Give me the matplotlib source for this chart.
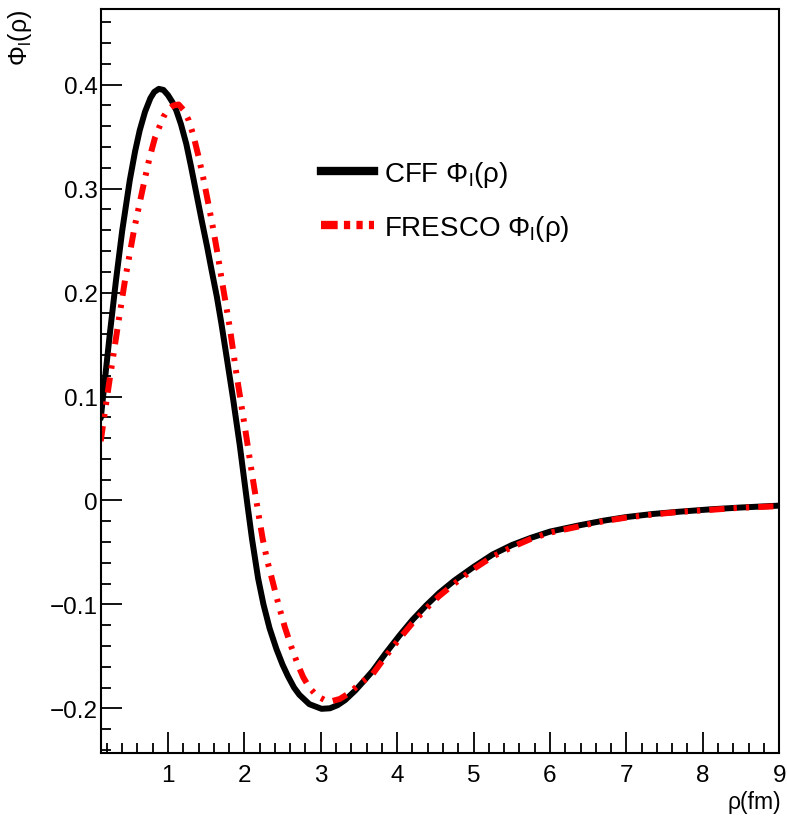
import matplotlib
matplotlib.use('Agg')
import matplotlib.pyplot as plt
from matplotlib.lines import Line2D
from matplotlib.ticker import MultipleLocator, FuncFormatter

plt.rcParams['font.family'] = 'Liberation Sans'
plt.rcParams['mathtext.fontset'] = 'custom'
plt.rcParams['mathtext.rm'] = 'Liberation Sans'
plt.rcParams['mathtext.it'] = 'Liberation Sans'
plt.rcParams['lines.scale_dashes'] = False

# CFF wave function
rho_cff = [0.12, 0.18, 0.24, 0.32, 0.40, 0.50, 0.57, 0.63, 0.70, 0.77,
           0.82, 0.88, 0.94, 1.00, 1.06, 1.11, 1.17, 1.24, 1.30, 1.37,
           1.44, 1.51, 1.57, 1.64, 1.70, 1.77, 1.85, 1.94, 2.04, 2.10,
           2.18, 2.25, 2.33, 2.42, 2.50, 2.57, 2.65, 2.72, 2.85, 3.01,
           3.12, 3.22, 3.32, 3.45, 3.56, 3.68, 3.85, 4.03, 4.20, 4.38,
           4.55, 4.75, 5.00, 5.25, 5.50, 5.75, 6.00, 6.38, 6.70, 7.00,
           7.35, 7.70, 8.11, 8.50, 9.00]
phi_cff = [0.079, 0.120, 0.161, 0.212, 0.259, 0.308, 0.336, 0.356, 0.374, 0.387,
           0.393, 0.396, 0.395, 0.390, 0.383, 0.375, 0.362, 0.343, 0.322, 0.296,
           0.270, 0.245, 0.222, 0.196, 0.170, 0.137, 0.099, 0.053, -0.004, -0.037,
           -0.075, -0.100, -0.123, -0.143, -0.158, -0.169, -0.180, -0.187, -0.196, -0.2005,
           -0.200, -0.197, -0.192, -0.183, -0.174, -0.164, -0.147, -0.130, -0.115, -0.101,
           -0.089, -0.077, -0.064, -0.052, -0.043, -0.036, -0.030, -0.024, -0.0195, -0.016,
           -0.013, -0.0108, -0.0085, -0.0068, -0.005]

# FRESCO wave function
rho_fr = [0.12, 0.18, 0.24, 0.34, 0.44, 0.56, 0.69, 0.76, 0.83, 0.94,
          1.00, 1.07, 1.14, 1.20, 1.27, 1.33, 1.40, 1.46, 1.53, 1.59,
          1.65, 1.70, 1.76, 1.81, 1.90, 2.01, 2.11, 2.18, 2.24, 2.30,
          2.37, 2.45, 2.53, 2.62, 2.70, 2.77, 2.85, 2.95, 3.05, 3.15,
          3.25, 3.38, 3.50, 3.68, 3.85, 4.03, 4.20, 4.38, 4.55, 4.75,
          5.00, 5.25, 5.50, 5.75, 6.00, 6.38, 6.70, 7.00, 7.35, 7.70,
          8.11, 8.50, 9.00]
phi_fr = [0.057, 0.088, 0.118, 0.166, 0.213, 0.262, 0.307, 0.330, 0.349, 0.369,
          0.376, 0.380, 0.381, 0.376, 0.366, 0.352, 0.331, 0.311, 0.285, 0.262,
          0.237, 0.214, 0.188, 0.166, 0.120, 0.069, 0.021, -0.011, -0.037, -0.058,
          -0.078, -0.101, -0.122, -0.142, -0.158, -0.170, -0.180, -0.188, -0.192, -0.193,
          -0.191, -0.185, -0.177, -0.167, -0.150, -0.133, -0.118, -0.104, -0.092, -0.080,
          -0.066, -0.054, -0.045, -0.037, -0.031, -0.025, -0.020, -0.0165, -0.0135, -0.011,
          -0.009, -0.007, -0.0055]

y_ticks = [-0.2, -0.1, 0.0, 0.1, 0.2, 0.3, 0.4]

fig = plt.figure(figsize=(7.87, 8.2), dpi=100)
ax = fig.add_axes([0.128, 0.0805, 0.862, 0.9075])

dash_style = (0, (11, 6.5, 2.4, 6.5, 2.4, 6.5))
ax.plot(rho_cff, phi_cff, color='black', lw=4.3, solid_capstyle='round',
        solid_joinstyle='round')
ax.plot(rho_fr, phi_fr, color='red', lw=4.3, linestyle=dash_style)

ax.set_xlim(0.12, 9.0)
ax.set_ylim(-0.243, 0.473)

ax.xaxis.set_major_locator(MultipleLocator(1))
ax.xaxis.set_minor_locator(MultipleLocator(0.2))
ax.set_yticks(y_ticks)
ax.yaxis.set_minor_locator(MultipleLocator(0.02))
ax.yaxis.set_major_formatter(FuncFormatter(
    lambda v, p: '0' if abs(v) < 1e-9 else f'{v:g}'.replace('-', '\u2212')))

ax.tick_params(which='both', direction='in', top=False, right=False,
               labelsize=17.5, width=1.3)
ax.tick_params(which='major', length=15)
ax.tick_params(which='minor', length=7.5)
ax.tick_params(axis='x', pad=8)
ax.tick_params(axis='y', pad=2)
for s in ax.spines.values():
    s.set_linewidth(1.5)

fig.text(0.026, 0.988, 'Φ$_{\\rm l}$(ρ)', rotation=90, ha='center', va='top', fontsize=18)
fig.text(0.992, 1 - 803 / 820, 'ρ(fm)', ha='right', va='center', fontsize=16.5)

handles = [Line2D([], [], color='black', lw=6),
           Line2D([], [], color='red', lw=6, linestyle=(0, (12, 4.5, 4.5, 4.5, 4.5, 4.5)))]
ax.legend(handles, ['CFF Φ$_{\\rm l}$(ρ)', 'FRESCO Φ$_{\\rm l}$(ρ)'],
          loc='upper left', bbox_to_anchor=(321 / 787, 1 - 160 / 820),
          bbox_transform=fig.transFigure, frameon=False, fontsize=20,
          handlelength=1.9, handletextpad=0.35, labelspacing=0.85,
          borderpad=0, borderaxespad=0)

plt.savefig('out.png', dpi=100)
